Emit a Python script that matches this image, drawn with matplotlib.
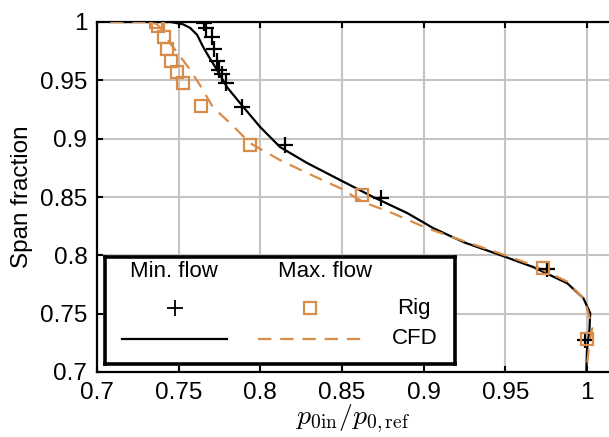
import numpy as np
import matplotlib
matplotlib.use("Agg")
import matplotlib.pyplot as plt

plt.rcParams['font.family'] = ['Liberation Sans', 'DejaVu Sans']
plt.rcParams['mathtext.fontset'] = 'cm'

ORANGE = '#D98C48'
GRID = '#C9C3C0'

# rig measurements, minimum flow (+)
rig_min_x = [0.7656, 0.767, 0.7705, 0.7717, 0.7735, 0.775, 0.7766, 0.779,
             0.7888, 0.8152, 0.874, 0.9757, 0.999]
rig_min_y = [0.999, 0.995, 0.987, 0.977, 0.9665, 0.959, 0.9555, 0.9476,
             0.927, 0.8945, 0.849, 0.788, 0.7273]

# rig measurements, maximum flow (squares)
rig_max_x = [0.736, 0.7375, 0.741, 0.743, 0.7453, 0.749, 0.7527, 0.7637,
             0.7937, 0.8624, 0.9733, 1.0003]
rig_max_y = [1.0, 0.9966, 0.987, 0.977, 0.9665, 0.957, 0.9477, 0.928,
             0.8945, 0.8516, 0.789, 0.728]

# CFD, minimum flow (solid)
cfd_min_x = [0.708, 0.745, 0.749, 0.7527, 0.757, 0.7613, 0.765, 0.769,
             0.7735, 0.7797, 0.7876, 0.7999, 0.8121, 0.8287, 0.8489, 0.8691,
             0.8900, 0.9059, 0.925, 0.947, 0.967, 0.988, 0.9978, 1.002,
             1.0015, 1.0, 0.9996]
cfd_min_y = [1.0, 1.0, 0.999, 0.998, 0.995, 0.989, 0.9786, 0.969, 0.959,
             0.944, 0.9305, 0.910, 0.8928, 0.8791, 0.8645, 0.850, 0.8362,
             0.8233, 0.811, 0.8002, 0.790, 0.776, 0.7633, 0.7504, 0.7358,
             0.7187, 0.70]

# CFD, maximum flow (dashed)
cfd_max_x = [0.708, 0.733, 0.7368, 0.740, 0.7447, 0.7558, 0.763, 0.771,
             0.7827, 0.7937, 0.8121, 0.8287, 0.8489, 0.863, 0.8795, 0.902,
             0.925, 0.947, 0.967, 0.988, 0.9985, 1.0033, 1.0015, 0.9997]
cfd_max_y = [1.0, 1.0, 0.998, 0.993, 0.982, 0.9614, 0.946, 0.927, 0.9117,
             0.8962, 0.8816, 0.8705, 0.8576, 0.8456, 0.837, 0.8233, 0.812,
             0.8015, 0.7915, 0.7775, 0.762, 0.738, 0.7247, 0.7015]

xticks = [0.7, 0.75, 0.8, 0.85, 0.9, 0.95, 1.0]
xticklabels = ['0.7', '0.75', '0.8', '0.85', '0.9', '0.95', '1']
yticks = [0.7, 0.75, 0.8, 0.85, 0.9, 0.95, 1.0]
yticklabels = ['0.7', '0.75', '0.8', '0.85', '0.9', '0.95', '1']

fig = plt.figure(figsize=(6.09, 4.37), dpi=100)
ax = fig.add_axes([97 / 609, 65 / 437, 512 / 609, 350 / 437])

ax.plot(cfd_min_x, cfd_min_y, color='black', lw=1.6, zorder=3)
ax.plot(cfd_max_x, cfd_max_y, color=ORANGE, lw=1.6, ls=(0, (6, 4)), zorder=3)
ax.plot(rig_min_x, rig_min_y, ls='none', marker='+', ms=11, mew=1.6,
        color='black', zorder=4)
ax.plot(rig_max_x, rig_max_y, ls='none', marker='s', ms=9, mew=1.6,
        mfc='none', mec=ORANGE, zorder=4)

ax.set_xlim(0.7, 1.0135)
ax.set_ylim(0.7, 1.0)
ax.set_xticks(xticks)
ax.set_xticklabels(xticklabels)
ax.set_yticks(yticks)
ax.set_yticklabels(yticklabels)
ax.grid(True, color=GRID, lw=1.5)
ax.set_axisbelow(True)
ax.tick_params(direction='in', length=4, width=1.5, labelsize=17.5,
               top=True, pad=7)
for side in ['left', 'top', 'bottom']:
    ax.spines[side].set_linewidth(1.6)
ax.spines['right'].set_visible(False)

ax.set_ylabel('Span fraction', fontsize=17.5, labelpad=5)
ax.set_xlabel(r'$p_{0\mathrm{in}}/p_{0,\mathrm{ref}}$', fontsize=20,
              labelpad=-1)

# table-style legend
lg = fig.add_axes([105 / 609, 73 / 437, 350 / 609, 107 / 437])
lg.set_xlim(0, 1)
lg.set_ylim(0, 1)
lg.set_xticks([])
lg.set_yticks([])
for s in lg.spines.values():
    s.set_linewidth(2.6)
lg.text(0.197, 0.86, 'Min. flow', ha='center', va='center', fontsize=16)
lg.text(0.629, 0.86, 'Max. flow', ha='center', va='center', fontsize=16)
lg.plot([0.2], [0.523], marker='+', ms=11, mew=1.3, color='black')
lg.plot([0.586], [0.523], marker='s', ms=8, mew=1.6, mfc='none', mec=ORANGE)
lg.plot([0.049, 0.349], [0.234, 0.234], color='black', lw=1.6)
lg.plot([0.437, 0.737], [0.234, 0.234], color=ORANGE, lw=1.6,
        ls=(0, (6, 4)))
lg.text(0.929, 0.523, 'Rig', ha='right', va='center', fontsize=16)
lg.text(0.951, 0.234, 'CFD', ha='right', va='center', fontsize=16)

fig.savefig('out.png', dpi=100)
